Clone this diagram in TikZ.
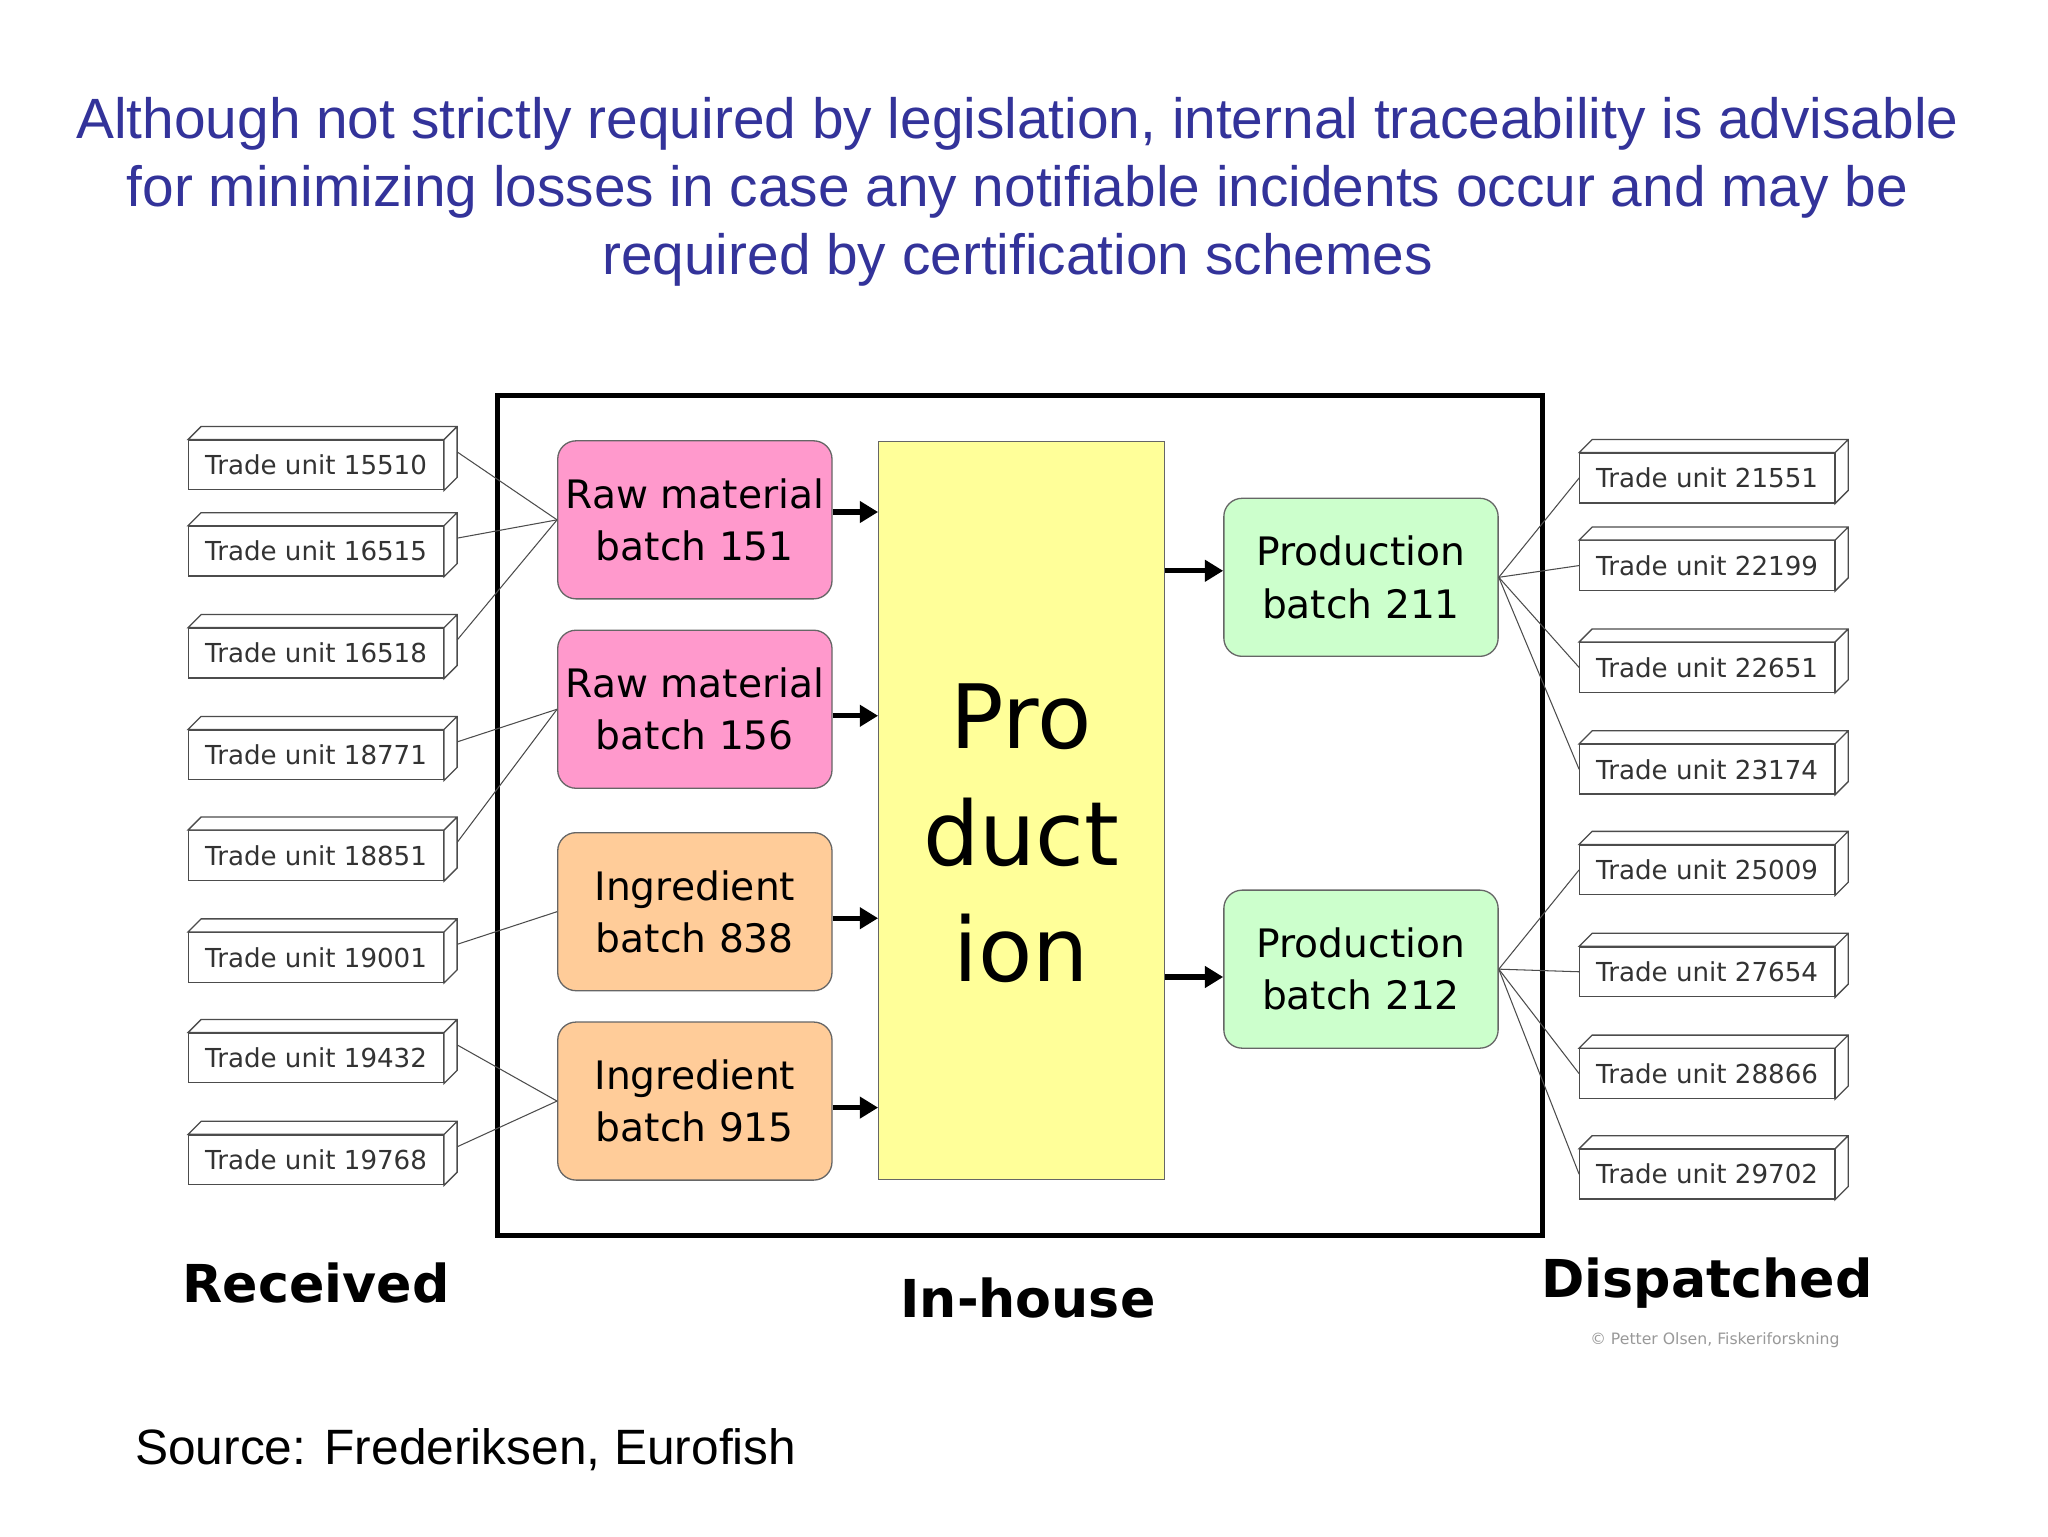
\documentclass[tikz,border=0pt]{standalone}
\usepackage{fontspec}
\setmainfont{Liberation Sans}
\newfontfamily\tah{DejaVu Sans}
\usetikzlibrary{arrows.meta}
\definecolor{ttl}{HTML}{33339A}
\definecolor{pnk}{HTML}{FF99CC}
\definecolor{org}{HTML}{FFCC99}
\definecolor{grn}{HTML}{CCFFCC}
\definecolor{ylw}{HTML}{FFFF99}
\tikzset{
 tu/.style={draw=black!70,line width=1pt,fill=white,minimum width=195pt,minimum height=38pt,inner sep=0pt,font=\tah\fontsize{20}{22}\selectfont,text=black!80},
 bt/.style={draw=black!60,line width=1pt,rounded corners=14pt,minimum width=210pt,minimum height=121pt,align=center,inner sep=0pt,font=\tah\fontsize{30}{40}\selectfont},
 ar/.style={-{Triangle[length=14pt,width=16pt]},line width=4pt},
 ln/.style={black!70,line width=0.8pt},
 lbl/.style={font=\tah\bfseries\fontsize{40}{44}\selectfont}
}
\newcommand{\cube}[1]{\draw[black!70,line width=1pt,fill=white] (#1.north west)--++(10,-10)--([shift={(10,-10)}]#1.north east)--([shift={(10,-10)}]#1.south east)--(#1.south east)--(#1.north east)--cycle (#1.north east)--++(10,-10);}
\begin{document}
\begin{tikzpicture}[x=1pt,y=-1pt]
\useasboundingbox[fill=white] (0,0) rectangle (1568,1176);
\node[text=ttl,align=center,font=\fontsize{43.5}{52}\selectfont] (title) at (779,147) {Although not strictly required by legislation, internal traceability is advisable\\for minimizing losses in case any notifiable incidents occur and may be\\required by certification schemes};
\draw[line width=4pt] (381,303) rectangle (1181,946);
\node[draw=black!60,fill=ylw,minimum width=219pt,minimum height=565pt,inner sep=0pt] (prod) at (782,620) {};
\node[align=center,font=\tah\fontsize{68}{89}\selectfont] (prodt) at (782,638) {Pro\\duct\\ion};
\node[bt,fill=pnk] (r151) at (532,398) {Raw material\\batch 151};
\node[bt,fill=pnk] (r156) at (532,543) {Raw material\\batch 156};
\node[bt,fill=org] (i838) at (532,698) {Ingredient\\batch 838};
\node[bt,fill=org] (i915) at (532,843) {Ingredient\\batch 915};
\node[bt,fill=grn] (p211) at (1042,442) {Production\\batch 211};
\node[bt,fill=grn] (p212) at (1042,742) {Production\\batch 212};
\foreach \n/\y in {r151/392,r156/548,i838/703,i915/848}{\draw[ar] (\n.east|-0,\y) -- (prod.west|-0,\y);}
\draw[ar] (prod.east|-0,437) -- (p211.west|-0,437);
\draw[ar] (prod.east|-0,748) -- (p212.west|-0,748);
\foreach \t/\y in {15510/356,16515/422,16518/500,18771/578,18851/655,19001/733,19432/810,19768/888}{
 \node[tu] (L\t) at (242,\y) {Trade unit \t}; \cube{L\t}}
\foreach \t/\y in {21551/366,22199/433,22651/511,23174/589,25009/666,27654/744,28866/822,29702/899}{
 \node[tu] (R\t) at (1307,\y) {Trade unit \t}; \cube{R\t}}
\foreach \t/\b in {15510/r151,16515/r151,16518/r151,18771/r156,18851/r156,19001/i838,19432/i915,19768/i915}{
 \draw[ln] ([shift={(10,-10)}]L\t.east) -- (\b.west);}
\foreach \t in {21551,22199,22651,23174}{\draw[ln] (p211.east) -- (R\t.west);}
\foreach \t in {25009,27654,28866,29702}{\draw[ln] (p212.east) -- (R\t.west);}
\node[lbl] (rec) at (242,982) {Received};
\node[lbl] (inh) at (787,994) {In-house};
\node[lbl] (dis) at (1307,982) {Dispatched};
\node[text=black!40,font=\tah\fontsize{12}{13}\selectfont] (copy) at (1313,1026) {© Petter Olsen, Fiskeriforskning};
\node[anchor=west,font=\fontsize{38}{42}\selectfont] (src) at (100,1110) {Source: Frederiksen, Eurofish};
\end{tikzpicture}
\end{document}
